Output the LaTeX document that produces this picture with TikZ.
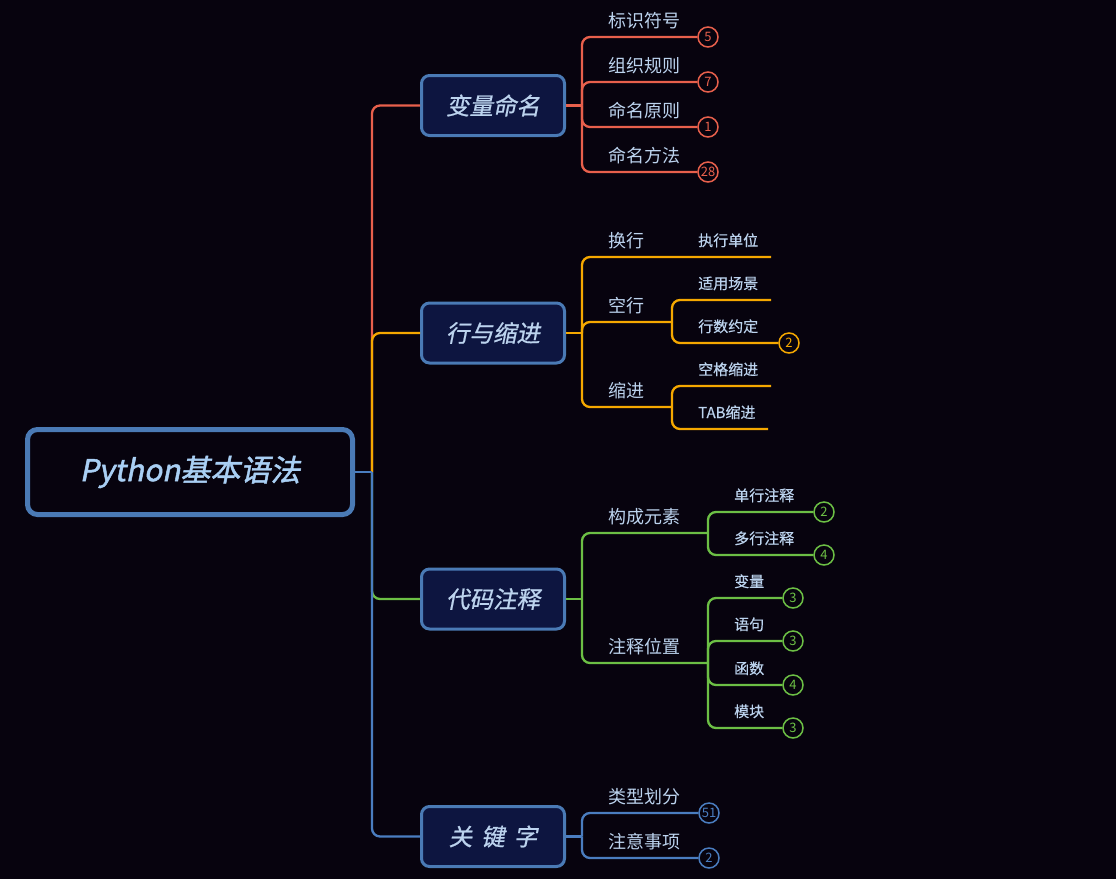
\documentclass[tikz,border=0pt]{standalone}
\usepackage{fontspec}
\newfontfamily\cjk{Noto Sans CJK SC}
\newfontfamily\cjkmid[FakeBold=0.4]{Noto Sans CJK SC}
\newfontfamily\cjkit[FakeSlant=0.2,FakeBold=0.8]{Noto Sans CJK SC}
\newfontfamily\cjkroot[FakeSlant=0.2,FakeBold=1.6]{Noto Sans CJK SC}
\definecolor{bgc}{HTML}{07030E}
\definecolor{framec}{HTML}{4A7AB5}
\definecolor{topicc}{HTML}{0D1540}
\definecolor{txtc}{HTML}{BCD3EE}
\definecolor{roottxt}{HTML}{A9CFF4}
\definecolor{redc}{HTML}{E8604C}
\definecolor{orangec}{HTML}{F5A800}
\definecolor{greenc}{HTML}{6CBF45}
\definecolor{bluec}{HTML}{4A7DC0}
\tikzset{
  root/.style={draw=framec,line width=5pt,rounded corners=10pt,fill=bgc,minimum width=325pt,minimum height=85pt,inner sep=0pt,text=roottxt,font=\cjkroot\fontsize{30}{36}\selectfont},
  topic/.style={draw=framec,line width=3pt,rounded corners=8pt,fill=topicc,minimum width=143pt,minimum height=60pt,inner sep=0pt,text=txtc,font=\cjkit\fontsize{23.5}{28}\selectfont},
  sub/.style={anchor=base west,inner sep=0pt,text=txtc,font=\cjk\fontsize{18}{22}\selectfont},
  subsub/.style={anchor=base west,inner sep=0pt,text=txtc,font=\cjkmid\fontsize{15}{18}\selectfont},
  badge/.style={circle,draw=#1,fill=bgc,line width=1.5pt,minimum size=20pt,inner sep=0pt,text=#1,font=\cjk\fontsize{13}{15}\selectfont},
  link/.style={line width=2.3pt,rounded corners=8pt}
}
\begin{document}
\begin{tikzpicture}[x=1pt,y=-1pt]
 \fill[bgc] (0,0) rectangle (1116,879);
 \useasboundingbox (0,0) rectangle (1116,879);
 % root and main topics
 \node[root] (root) at (190,472) {Python基本语法};
 \node[topic] (t1) at (493,105.5) {变量命名};
 \node[topic] (t2) at (493,333) {行与缩进};
 \node[topic] (t3) at (493,599) {代码注释};
 \node[topic] (t4) at (493,836.5) {关\hspace{9pt}键\hspace{9pt}字};
 \coordinate (hub) at (372,472);
 \draw[link,redc] (hub) |- (t1.west);
 \draw[link,orangec] (hub) |- (t2.west);
 \draw[link,greenc] (hub) |- (t3.west);
 \draw[link,bluec] (hub) |- (t4.west);
 \draw[link,bluec] (root.east) -- (hub);
 % 变量命名
 \coordinate (h1) at (582,105.5);
 \draw[link,redc] (t1.east) -- (h1);
 \node[badge=redc] (b11) at (708,37) {5};
 \node[badge=redc] (b12) at (708,82) {7};
 \node[badge=redc] (b13) at (708,127) {1};
 \node[badge=redc] (b14) at (708,172) {\kern-0.5pt 28\kern-0.5pt};
 \draw[link,redc] (h1) |- (b11.west);
 \draw[link,redc] (h1) |- (b12.west);
 \draw[link,redc] (h1) |- (b13.west);
 \draw[link,redc] (h1) |- (b14.west);
 \node[sub] (c11) at (608,27) {标识符号};
 \node[sub] (c12) at (608,72) {组织规则};
 \node[sub] (c13) at (608,117) {命名原则};
 \node[sub] (c14) at (608,162) {命名方法};
 % 行与缩进
 \coordinate (h2) at (582,333);
 \draw[link,orangec] (t2.east) -- (h2);
 \coordinate (e21) at (672,257);
 \coordinate (e22) at (672,322);
 \coordinate (e23) at (672,407);
 \coordinate (e211) at (771,257);
 \coordinate (e221) at (771,300);
 \node[badge=orangec] (b222) at (789,343) {2};
 \coordinate (e231) at (771,386);
 \coordinate (e232) at (768,429);
 \draw[link,orangec] (h2) |- (e21) -- (e211);
 \draw[link,orangec] (h2) |- (e22);
 \draw[link,orangec] (e22) |- (e221);
 \draw[link,orangec] (e22) |- (b222.west);
 \draw[link,orangec] (h2) |- (e23);
 \draw[link,orangec] (e23) |- (e231);
 \draw[link,orangec] (e23) |- (e232);
 \node[sub] (c21) at (608,247) {换行};
 \node[sub] (c22) at (608,312) {空行};
 \node[sub] (c23) at (608,397) {缩进};
 \node[subsub] (c211) at (698,246) {执行单位};
 \node[subsub] (c221) at (698,289) {适用场景};
 \node[subsub] (c222) at (698,332) {行数约定};
 \node[subsub] (c231) at (698,375) {空格缩进};
 \node[subsub] (c232) at (698,418) {TAB缩进};
 % 代码注释
 \coordinate (h3) at (582,599);
 \draw[link,greenc] (t3.east) -- (h3);
 \coordinate (e31) at (708,533);
 \coordinate (e32) at (708,663);
 \node[badge=greenc] (b311) at (824,512) {2};
 \node[badge=greenc] (b312) at (824,555) {4};
 \node[badge=greenc] (b321) at (793,598) {3};
 \node[badge=greenc] (b322) at (793,641) {3};
 \node[badge=greenc] (b323) at (793,685) {4};
 \node[badge=greenc] (b324) at (793,728) {3};
 \draw[link,greenc] (h3) |- (e31);
 \draw[link,greenc] (h3) |- (e32);
 \draw[link,greenc] (e31) |- (b311.west);
 \draw[link,greenc] (e31) |- (b312.west);
 \draw[link,greenc] (e32) |- (b321.west);
 \draw[link,greenc] (e32) |- (b322.west);
 \draw[link,greenc] (e32) |- (b323.west);
 \draw[link,greenc] (e32) |- (b324.west);
 \node[sub] (c31) at (608,523) {构成元素};
 \node[sub] (c32) at (608,653) {注释位置};
 \node[subsub] (c311) at (734,501) {单行注释};
 \node[subsub] (c312) at (734,544) {多行注释};
 \node[subsub] (c321) at (734,587) {变量};
 \node[subsub] (c322) at (734,630) {语句};
 \node[subsub] (c323) at (734,674) {函数};
 \node[subsub] (c324) at (734,717) {模块};
 % 关键字
 \coordinate (h4) at (582,836.5);
 \draw[link,bluec] (t4.east) -- (h4);
 \node[badge=bluec] (b41) at (709,813) {\kern-0.5pt 51\kern-0.5pt};
 \node[badge=bluec] (b42) at (709,858) {2};
 \draw[link,bluec] (h4) |- (b41.west);
 \draw[link,bluec] (h4) |- (b42.west);
 \node[sub] (c41) at (608,803) {类型划分};
 \node[sub] (c42) at (608,848) {注意事项};
\end{tikzpicture}
\end{document}
